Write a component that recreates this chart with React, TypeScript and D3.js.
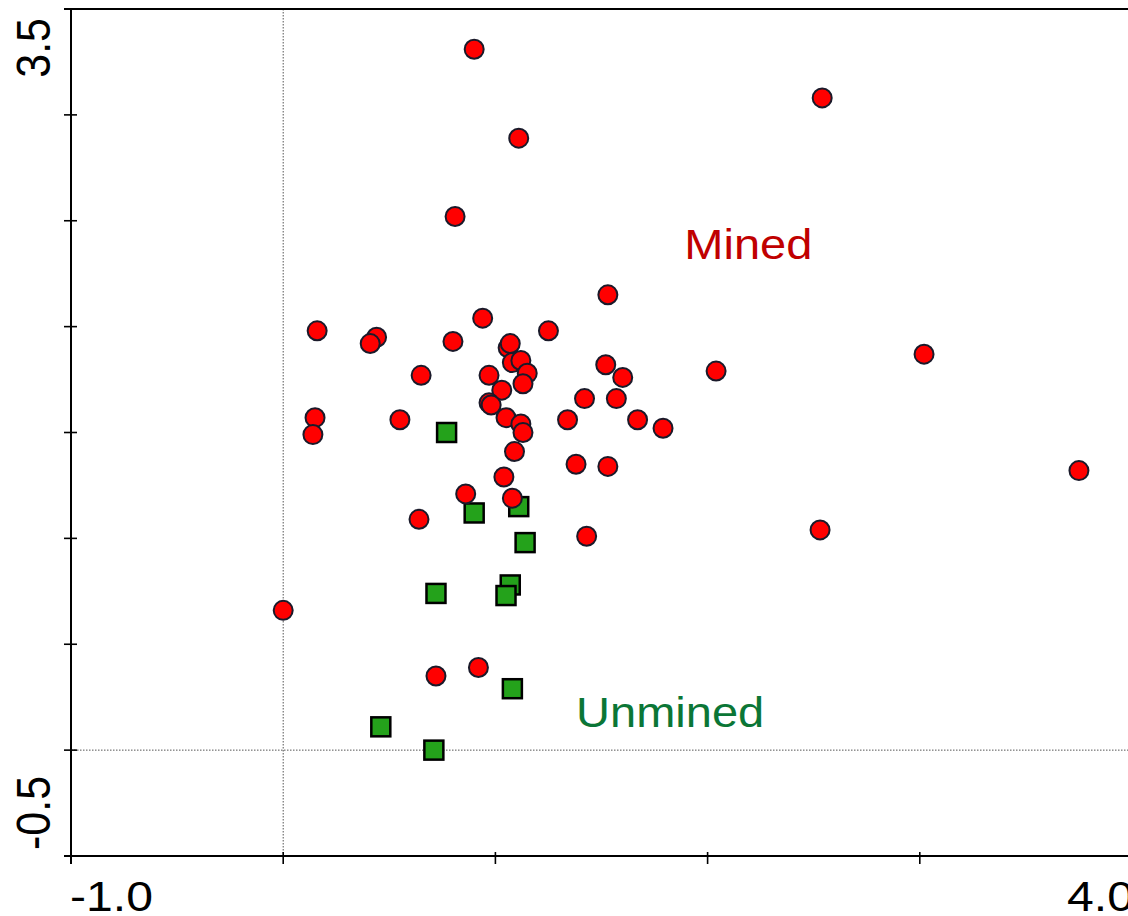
import * as d3 from "d3";

// ordination scores
const minedX = [
  0.9, 2.54, 1.11, 0.81, 1.53, 0.16, 0.44, 0.41, 0.8, 0.94, 1.25, 1.06, 1.07,
  1.08, 1.12, 1.15, 1.13, 0.97, 0.65, 1.03, 0.97, 0.98, 1.05, 1.12, 1.13, 1.09,
  1.04, 0.86, 1.08, 0.64, 0.55, 0.15, 0.14, 1.52, 1.6, 1.42, 1.57, 1.34, 1.67,
  1.79, 1.38, 1.53, 1.43, 2.04, 2.53, 3.02, 3.75, 0.0, 0.72, 0.92
];
const minedY = [
  3.31, 3.08, 2.89, 2.52, 2.15, 1.98, 1.95, 1.92, 1.93, 2.04, 1.98, 1.9, 1.92,
  1.83, 1.84, 1.78, 1.73, 1.77, 1.77, 1.7, 1.64, 1.63, 1.57, 1.54, 1.5, 1.41,
  1.29, 1.21, 1.19, 1.09, 1.56, 1.57, 1.49, 1.82, 1.76, 1.66, 1.66, 1.56, 1.56,
  1.52, 1.35, 1.34, 1.01, 1.79, 1.04, 1.87, 1.32, 0.66, 0.35, 0.39
];
const unminedX = [0.77, 0.9, 1.11, 1.14, 1.07, 1.05, 0.72, 1.08, 0.46, 0.71];
const unminedY = [1.5, 1.12, 1.15, 0.98, 0.78, 0.73, 0.74, 0.29, 0.11, 0.0];

const xTickValues = [-1, 0, 1, 2, 3, 4];
const yTickValues = [-0.5, 0, 0.5, 1, 1.5, 2, 2.5, 3, 3.5];
const xEndLabels = ["-1.0", "4.0"];
const yEndLabels = ["-0.5", "3.5"];

const groupLabels = [
  { text: "Mined", x: 1.89, y: 2.32, color: "#c00000" },
  { text: "Unmined", x: 1.38, y: 0.11, color: "#0b7636" },
];

const W = 1128;
const H = 916;
const FONT = "Arial, 'Liberation Sans', sans-serif";
const STRETCH = 1.12;

export default function App() {
  const x = d3.scaleLinear().domain([-1, 4]).range([71, 1132]);
  const y = d3.scaleLinear().domain([-0.5, 3.5]).range([856, 9]);

  const minedPts = minedX.map((v, i) => [x(v), y(minedY[i])]);
  const unminedPts = unminedX.map((v, i) => [x(v), y(unminedY[i])]);
  const side = 19;

  return (
    <svg
      width={W}
      height={H}
      style={{ position: "absolute", left: 0, top: 0, background: "#fff" }}
      fontFamily={FONT}
    >
      {/* origin reference lines */}
      <line x1={x(0)} x2={x(0)} y1={y(3.5)} y2={y(-0.5)} stroke="#555" strokeWidth={1} strokeDasharray="1.5,1.5" />
      <line x1={x(-1)} x2={W} y1={y(0)} y2={y(0)} stroke="#555" strokeWidth={1} strokeDasharray="1.5,1.5" />

      {/* frame and axes */}
      <line x1={64} x2={W} y1={y(3.5)} y2={y(3.5)} stroke="#000" strokeWidth={2} />
      <line x1={x(-1)} x2={x(-1)} y1={y(3.5)} y2={y(-0.5) + 8} stroke="#000" strokeWidth={2} />
      <line x1={64} x2={W} y1={y(-0.5)} y2={y(-0.5)} stroke="#000" strokeWidth={2} />
      {yTickValues.map(t => (
        <line key={"yt" + t} x1={64} x2={77} y1={y(t)} y2={y(t)} stroke="#000" strokeWidth={1.6} />
      ))}
      {xTickValues.map(t => (
        <line key={"xt" + t} x1={x(t)} x2={x(t)} y1={y(-0.5) - 4} y2={y(-0.5) + 8} stroke="#000" strokeWidth={1.6} />
      ))}

      {/* axis end labels */}
      <text transform={`translate(${x(-1) - 1},${911}) scale(${STRETCH},1)`} fontSize={43} fill="#000">
        {xEndLabels[0]}
      </text>
      <text transform={`translate(${x(4) + 2},${911}) scale(${STRETCH},1)`} fontSize={43} fill="#000" textAnchor="end">
        {xEndLabels[1]}
      </text>
      <text transform={`translate(50,${y(-0.5) - 6}) scale(${STRETCH},1) rotate(-90)`} fontSize={43} fill="#000">
        {yEndLabels[0]}
      </text>
      <text transform={`translate(50,${y(3.5) + 9}) scale(${STRETCH},1) rotate(-90)`} fontSize={43} fill="#000" textAnchor="end">
        {yEndLabels[1]}
      </text>

      {/* samples */}
      {unminedPts.map(([px, py], i) => (
        <rect
          key={"u" + i}
          x={px - side / 2}
          y={py - side / 2}
          width={side}
          height={side}
          fill="#24a21b"
          stroke="#000"
          strokeWidth={2.5}
        />
      ))}
      {minedPts.map(([px, py], i) => (
        <circle key={"m" + i} cx={px} cy={py} r={9.5} fill="#ff0000" stroke="#1a1a2a" strokeWidth={2} />
      ))}

      {/* group labels */}
      {groupLabels.map(g => (
        <text
          key={g.text}
          transform={`translate(${x(g.x)},${y(g.y)}) scale(${STRETCH},1)`}
          fontSize={42}
          fill={g.color}
        >
          {g.text}
        </text>
      ))}
    </svg>
  );
}
